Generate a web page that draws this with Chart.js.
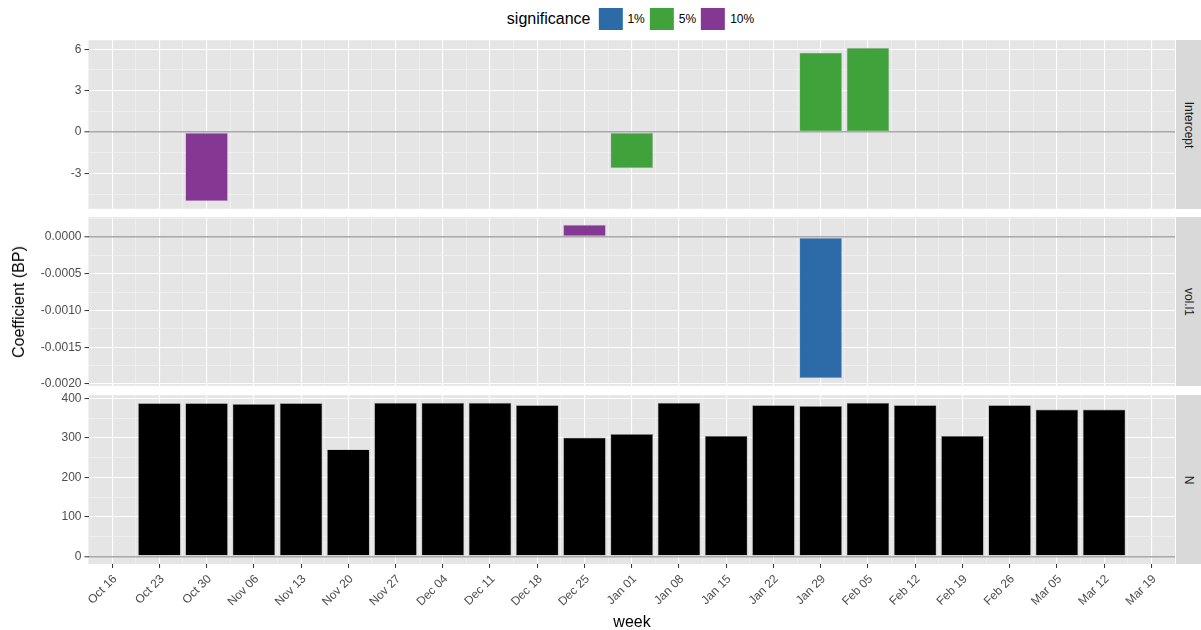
<!DOCTYPE html>
<html>
<head>
<meta charset="utf-8">
<script src="https://cdn.jsdelivr.net/npm/chart.js@4"></script>
<style>
  body { margin: 0; background: #fff; font-family: "Liberation Sans", Arial, sans-serif; }
  #wrap { position: relative; width: 1201px; height: 630px; overflow: hidden; }
  canvas { position: absolute; left: 0; }
  .strip { position: absolute; left: 1176px; width: 25px; height: 169px; background: #d9d9d9; }
  .strip span { position: absolute; left: 50%; top: 50%; transform: translate(-50%, -50%) rotate(90deg);
    font-size: 12px; color: #1a1a1a; white-space: nowrap; }
  #ytitle { position: absolute; left: 19px; top: 302px; transform: translate(-50%, -50%) rotate(-90deg);
    font-size: 16px; color: #000; white-space: nowrap; }
  #xtitle { position: absolute; left: 632px; top: 612px; transform: translateX(-50%);
    font-size: 16px; line-height: 20px; color: #000; }
  #legend { position: absolute; left: 633px; top: 8px; transform: translateX(-50%);
    display: flex; align-items: center; height: 22px; white-space: nowrap; }
  #legend .title { font-size: 16px; margin-right: 8px; }
  #legend .key { width: 24px; height: 22px; }
  #legend .lab { font-size: 12px; margin: 0 5px 0 5px; }
</style>
</head>
<body>
<div id="wrap">
  <div id="legend"></div>
  <canvas id="interceptChart" width="1175" height="189" style="top:30px"></canvas>
  <canvas id="volChart" width="1175" height="189" style="top:207px"></canvas>
  <canvas id="nChart" width="1175" height="229" style="top:385px"></canvas>
  <div class="strip" style="top:40px"><span>Intercept</span></div>
  <div class="strip" style="top:217px"><span>vol.l1</span></div>
  <div class="strip" style="top:395px"><span>N</span></div>
  <div id="ytitle">Coefficient (BP)</div>
  <div id="xtitle">week</div>
</div>
<script>
// weeks on the x axis
const weeks = [
  "Oct 16", "Oct 23", "Oct 30", "Nov 06", "Nov 13", "Nov 20", "Nov 27",
  "Dec 04", "Dec 11", "Dec 18", "Dec 25", "Jan 01", "Jan 08", "Jan 15",
  "Jan 22", "Jan 29", "Feb 05", "Feb 12", "Feb 19", "Feb 26", "Mar 05",
  "Mar 12", "Mar 19",
];

const sigLevels = ["1%", "5%", "10%"];
const sigColors = ["#2c6aa8", "#40a23a", "#843893"];

// Intercept panel
const interceptValues = [
  null, null, -5.0, null, null, null, null, null, null, null, null, -2.6,
  null, null, null, 5.75, 6.1, null, null, null, null, null, null,
];
const interceptSig = [
  null, null, "10%", null, null, null, null, null, null, null, null, "5%",
  null, null, null, "5%", "5%", null, null, null, null, null, null,
];

// vol.l1 panel
const volValues = [
  null, null, null, null, null, null, null, null, null, null, 0.000165, null,
  null, null, null, -0.00192, null, null, null, null, null, null, null,
];
const volSig = [
  null, null, null, null, null, null, null, null, null, null, "10%", null,
  null, null, null, "1%", null, null, null, null, null, null, null,
];

// N panel
const nValues = [
  null, 388, 388, 386, 388, 271, 389, 389, 389, 383, 301, 310,
  389, 305, 383, 381, 389, 383, 305, 383, 372, 372, null,
];

const interceptTicks = [-3, 0, 3, 6];
const volTicks = [-0.002, -0.0015, -0.001, -0.0005, 0];
const nTicks = [0, 100, 200, 300, 400];

// grey panel background
const panelBg = {
  id: "panelBg",
  beforeDraw(chart) {
    const { ctx, chartArea } = chart;
    ctx.save();
    ctx.fillStyle = "#e5e5e5";
    ctx.fillRect(chartArea.left, chartArea.top, chartArea.width, chartArea.height);
    ctx.restore();
  },
};

function makePanel(id, values, sig, ticks, fmt, showX) {
  const nums = values.filter((v) => v !== null);
  const lo = Math.min(0, ...nums);
  const hi = Math.max(0, ...nums);
  const pad = (hi - lo) * 0.05;
  const yMin = lo - pad;
  const yMax = hi + pad;
  const step = ticks[1] - ticks[0];

  const colors = values.map((v, i) =>
    sig ? sigColors[sigLevels.indexOf(sig[i])] : "#000000"
  );

  new Chart(document.getElementById(id).getContext("2d"), {
    type: "bar",
    data: {
      labels: weeks,
      datasets: [
        {
          data: values,
          backgroundColor: colors,
          borderColor: sig ? "#b5b5b5" : "#8f8f8f",
          borderWidth: 0.6,
          borderSkipped: false,
          categoryPercentage: 0.9,
          barPercentage: 1.0,
        },
      ],
    },
    options: {
      responsive: false,
      animation: false,
      layout: { padding: { top: 10, bottom: showX ? 0 : 10, left: 0, right: 0 } },
      plugins: { legend: { display: false }, tooltip: { enabled: false } },
      scales: {
        x: {
          type: "category",
          offset: true,
          grid: {
            offset: false,
            color: "#ffffff",
            lineWidth: 1.1,
            drawTicks: showX,
            tickLength: 4,
            tickColor: "#333333",
            tickWidth: 1,
          },
          border: { display: false },
          ticks: {
            display: showX,
            autoSkip: false,
            minRotation: 45,
            maxRotation: 45,
            padding: 4,
            labelOffset: 3,
            color: "#4d4d4d",
            font: { family: "Liberation Sans", size: 12 },
          },
          afterFit(scale) {
            scale.height = showX ? 50 : 0;
          },
        },
        xMinor: {
          type: "category",
          labels: weeks,
          position: "bottom",
          offset: true,
          grid: { offset: true, color: "#f0f0f0", lineWidth: 0.8, drawTicks: false },
          border: { display: false },
          ticks: { display: false },
          afterFit(scale) {
            scale.height = 0;
          },
        },
        y: {
          min: yMin,
          max: yMax,
          border: { display: false },
          afterBuildTicks(scale) {
            const list = [];
            ticks.forEach((v) => {
              list.push({ value: v - step / 2, minor: true });
              list.push({ value: v, minor: false });
            });
            list.push({ value: ticks[ticks.length - 1] + step / 2, minor: true });
            scale.ticks = list.filter((t) => t.value >= yMin && t.value <= yMax);
          },
          afterFit(scale) {
            scale.width = 88.5;
          },
          grid: {
            color: (ctx) => {
              if (!ctx.tick) return "#ffffff";
              if (Math.abs(ctx.tick.value) < 1e-12) return "#a8a8a8";
              return ctx.tick.minor ? "#f0f0f0" : "#ffffff";
            },
            lineWidth: (ctx) => {
              if (!ctx.tick) return 1.1;
              if (Math.abs(ctx.tick.value) < 1e-12) return 1.6;
              return ctx.tick.minor ? 0.8 : 1.1;
            },
            tickLength: 4,
            tickWidth: 1,
            tickColor: (ctx) =>
              ctx.tick && ctx.tick.minor ? "rgba(0,0,0,0)" : "#333333",
          },
          ticks: {
            autoSkip: false,
            padding: 3,
            color: "#4d4d4d",
            font: { family: "Liberation Sans", size: 12 },
            callback: (v, i, t) => (t[i].minor ? "" : fmt(v)),
          },
        },
      },
    },
    plugins: [panelBg],
  });
}

document.addEventListener("DOMContentLoaded", function () {
  // legend
  const legend = document.getElementById("legend");
  legend.innerHTML = '<span class="title">significance</span>';
  sigLevels.forEach((lvl, i) => {
    legend.innerHTML +=
      '<span class="key" style="background:' + sigColors[i] + '"></span>' +
      '<span class="lab">' + lvl + "</span>";
  });

  makePanel("interceptChart", interceptValues, interceptSig, interceptTicks, (v) => String(v), false);
  makePanel("volChart", volValues, volSig, volTicks, (v) => v.toFixed(4), false);
  makePanel("nChart", nValues, null, nTicks, (v) => String(v), true);
});
</script>
</body>
</html>
